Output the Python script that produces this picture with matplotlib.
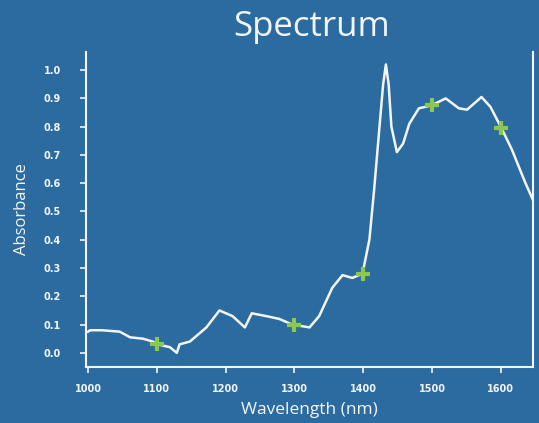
import matplotlib
matplotlib.use("Agg")
import matplotlib.pyplot as plt

# Data
wavelength = [1000, 1003, 1020, 1046, 1061, 1080, 1094, 1101, 1119, 1129, 1133, 1148,
              1172, 1191, 1210, 1228, 1238, 1259, 1278, 1297, 1322, 1336, 1355, 1370,
              1384, 1399, 1409, 1416, 1423, 1429, 1433, 1437, 1441, 1449, 1458, 1467,
              1481, 1499, 1520, 1539, 1551, 1572, 1585, 1601, 1616, 1636, 1647]
absorbance = [0.075, 0.08, 0.08, 0.075, 0.055, 0.05, 0.04, 0.03, 0.02, 0.0, 0.03, 0.04,
              0.09, 0.15, 0.13, 0.09, 0.14, 0.13, 0.12, 0.10, 0.09, 0.13, 0.23, 0.275,
              0.265, 0.28, 0.40, 0.58, 0.78, 0.95, 1.02, 0.95, 0.80, 0.71, 0.74, 0.81,
              0.865, 0.875, 0.90, 0.865, 0.86, 0.905, 0.87, 0.795, 0.72, 0.60, 0.54]
marker_wl = [1100, 1300, 1400, 1500, 1600]
marker_abs = [0.03, 0.10, 0.28, 0.875, 0.795]
xticks = [1000, 1100, 1200, 1300, 1400, 1500, 1600]
yticks = [0.0, 0.1, 0.2, 0.3, 0.4, 0.5, 0.6, 0.7, 0.8, 0.9, 1.0]

bg = "#2c6b9f"
fg = "#f2f6fa"

fig = plt.figure(figsize=(5.39, 4.23), dpi=100, facecolor=bg)
ax = fig.add_axes([0.1596, 0.1324, 0.8294, 0.7446], facecolor=bg)

ax.plot(wavelength, absorbance, color=fg, lw=1.8)
ax.plot(marker_wl, marker_abs, linestyle="none", marker="+", markersize=10,
        markeredgewidth=3, color="#8cc84b")

ax.set_xlim(997, 1647)
ax.set_ylim(-0.05, 1.064)
ax.set_xticks(xticks)
ax.set_yticks(yticks)
ax.set_xticklabels([str(v) for v in xticks])
ax.set_yticklabels([f"{v:.1f}" for v in yticks])
ax.tick_params(colors=fg, labelsize=7, length=4, width=1.2)
ax.tick_params(axis="y", pad=14)
ax.tick_params(axis="x", pad=8)
for lbl in ax.get_xticklabels() + ax.get_yticklabels():
    lbl.set_fontweight("bold")
for s in ax.spines.values():
    s.set_color(fg)
    s.set_linewidth(1.5)
ax.spines["top"].set_visible(False)

ax.set_xlabel("Wavelength (nm)", color=fg, fontsize=12.5, family="Open Sans", labelpad=6)
ax.set_ylabel("Absorbance", color=fg, fontsize=12, family="Open Sans", labelpad=10)
fig.text(0.578, 0.935, "Spectrum", color=fg, fontsize=25, family="Open Sans",
         ha="center", va="center")

fig.savefig("out.png", dpi=100, facecolor=bg)
